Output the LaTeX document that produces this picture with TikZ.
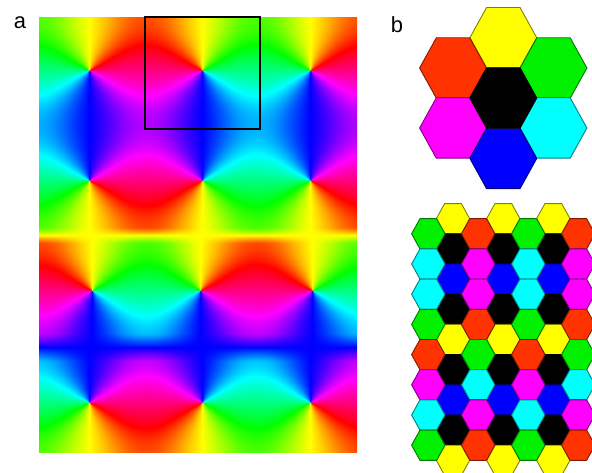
\documentclass[tikz,border=0pt]{standalone}
\usepackage{fontspec}
\setmainfont{Liberation Sans}
\usetikzlibrary{positioning}

\definecolor{hexred}{RGB}{255,51,0}
\definecolor{hexgreen}{RGB}{0,240,0}
\definecolor{hexyellow}{RGB}{255,255,0}
\definecolor{hexblue}{RGB}{0,0,255}
\definecolor{hexcyan}{RGB}{0,255,255}
\definecolor{hexmagenta}{RGB}{255,0,255}

% phase map, evaluated per point: x y -> r g b
\pgfdeclarefunctionalshading{phasemap}{\pgfpoint{0bp}{0bp}}{\pgfpoint{319bp}{436bp}}{}{
  452 exch sub exch 38 add exch
  dup 235 gt 1 index 347 lt and
  {exch dup 200 lt {91.7 sub 1.662 mul}{200 sub 1.607 mul 180 add} ifelse}
  {exch dup 202 lt {89 sub 1.593 mul}{202 sub 1.667 mul 180 add} ifelse} ifelse
  sin dup dup mul 0.7 mul 1 add mul exch
  dup dup 235 exch sub 8 div -1 2 copy lt {exch} if pop 1 2 copy gt {exch} if pop
  exch 347 exch sub 14 div -1 2 copy lt {exch} if pop 1 2 copy gt {exch} if pop mul
  3 -1 roll mul -0.9 mul exch
  dup 290 lt {70 sub 1.636 mul}{290 sub 1.607 mul 360 add} ifelse sin
  dup dup mul 0.7 mul 1 add mul
  exch atan 150 add dup 360 ge {360 sub} if
  dup 180 sub abs 60 div 1 sub 0 2 copy lt {exch} if pop 1 2 copy gt {exch} if pop exch
  dup 120 sub abs 60 div 2 exch sub 0 2 copy lt {exch} if pop 1 2 copy gt {exch} if pop exch
  240 sub abs 60 div 2 exch sub 0 2 copy lt {exch} if pop 1 2 copy gt {exch} if pop
}

\tikzset{
  hexline/.style={draw=#1!50!black, fill=#1, line width=0.9bp, line join=round},
  panellabel/.style={font=\fontsize{22}{24}\selectfont, inner sep=0pt}
}

% centre x, centre y, size, colour
\newcommand{\hexcell}[4]{
  \draw[hexline=#4, shift={(#1,#2)}, scale=#3]
    (-16.7,0) -- (-8.35,-15.1) -- (8.35,-15.1) -- (16.7,0) -- (8.35,15.1) -- (-8.35,15.1) -- cycle;
}

\begin{document}
\begin{tikzpicture}[x=1bp,y=-1bp]
\useasboundingbox (0,0) rectangle (592,473);

% panel a
\node[panellabel] (labela) at (20,23) {a};
\node[anchor=north west, inner sep=0pt] (phase) at (38,16) {\pgfuseshading{phasemap}};
\draw[line width=2bp] (144.5,17) rectangle (259.5,129.5);

% panel b, single cluster
\node[panellabel] (labelb) at (397,25) {b};
\foreach \cx/\cy/\cc in {503.3/37.7/hexyellow, 453/68/hexred, 553.5/68/hexgreen,
    453/128/hexmagenta, 553.5/128/hexcyan, 503.3/158.5/hexblue, 503.3/98/black}
  \hexcell{\cx}{\cy}{2}{\cc};

% panel b, lattice: odd columns first
\foreach \cx in {453,503.3,553.3}
  \foreach \cy/\cc in {218.7/hexyellow, 248.9/black, 279.1/hexblue, 309.3/black, 339.5/hexyellow,
      369.7/black, 399.9/hexblue, 430.1/black, 460.3/hexyellow}
    \hexcell{\cx}{\cy}{1}{\cc};

% even columns
\foreach \cx in {428.3,528.3}
  \foreach \cy/\cc in {233.8/hexgreen, 264/hexcyan, 294.2/hexcyan, 324.4/hexgreen,
      354.6/hexred, 384.8/hexmagenta, 415/hexcyan, 445.2/hexgreen}
    \hexcell{\cx}{\cy}{1}{\cc};
\foreach \cx in {478.2,578.3}
  \foreach \cy/\cc in {233.8/hexred, 264/hexmagenta, 294.2/hexmagenta, 324.4/hexred,
      354.6/hexgreen, 384.8/hexcyan, 415/hexmagenta, 445.2/hexred}
    \hexcell{\cx}{\cy}{1}{\cc};
\end{tikzpicture}
\end{document}
